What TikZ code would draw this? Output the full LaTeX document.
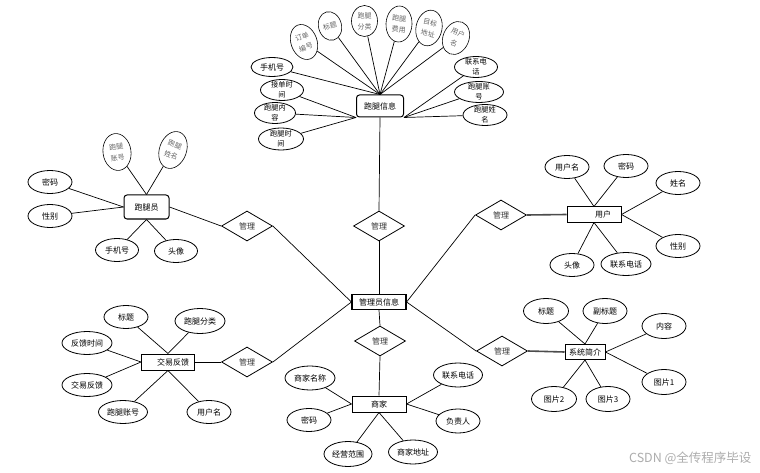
\documentclass[tikz,border=0pt]{standalone}
\usepackage{fontspec}
\setmainfont{Noto Sans CJK SC}
\usetikzlibrary{shapes.geometric}
\begin{document}
\begin{tikzpicture}[x=1pt,y=-1pt,
  every node/.style={font=\fontsize{8}{9}\selectfont},
  attr/.style={draw, ellipse, line width=0.8pt, minimum width=44pt, minimum height=23pt, inner sep=0pt},
  attrtwo/.style={attr, align=center, inner sep=-4pt, minimum height=21pt, font=\fontsize{7.2}{9.6}\selectfont},
  tilt/.style={draw, ellipse, line width=0.6pt, minimum width=26pt, minimum height=36pt, inner sep=-3pt,
    align=center, text=black!60, font=\fontsize{7}{11.2}\selectfont, rotate=#1},
  entity/.style={draw, line width=1pt, inner sep=0pt, minimum height=15pt},
  rentity/.style={entity, rounded corners=3pt},
  rel/.style={draw, diamond, line width=0.8pt, minimum width=51pt, minimum height=30pt, inner sep=0pt, text=black!80},
  link/.style={line width=0.7pt},
  heavy/.style={line width=1.6pt, draw=black!70},
]
\useasboundingbox[fill=white] (0,0) rectangle (760,473);

% ---------- entities ----------
\node[rentity, minimum width=47pt, minimum height=22pt] (pt) at (380,106) {跑腿信息};
\node[entity, minimum width=54pt, line width=1.2pt] (gl) at (379,302) {管理员信息};
\node[rentity, minimum width=45pt, minimum height=24pt] (pty) at (146.5,207) {跑腿员};
\node[entity, minimum width=54pt] (yh) at (594,214.5) {\hspace*{18pt}用户};
\node[entity, minimum width=53pt, minimum height=16pt] (jy) at (168,362) {\hspace*{10pt}交易反馈};
\node[entity, minimum width=54pt, minimum height=16pt] (sj) at (379,404) {商家};
\node[entity, minimum width=40pt] (xt) at (585,352) {系统简介};

% ---------- relationships ----------
\node[rel] (d1) at (379,226) {管理};
\node[rel] (d2) at (247,226) {管理};
\node[rel] (d3) at (501,215) {管理};
\node[rel] (d4) at (247,362) {管理};
\node[rel] (d5) at (380,341) {管理};
\node[rel] (d6) at (502,351) {管理};

% ---------- attributes of 跑腿信息 ----------
\node[tilt=20]  (p1) at (304,42) {订单\\编号};
\node[tilt=15, minimum width=23pt, minimum height=29pt] (p2) at (330,26) {标题};
\node[tilt=0, minimum height=31pt]  (p3) at (364.5,21) {跑腿\\分类};
\node[tilt=-3]  (p4) at (399,24) {跑腿\\费用};
\node[tilt=-12] (p5) at (429,28) {目标\\地址};
\node[tilt=-22, minimum height=34pt] (p6) at (456,38) {用户\\名};
\node[attr, minimum width=42pt, minimum height=19pt] (p7) at (272,67) {手机号};
\node[attrtwo, minimum width=43pt] (p8) at (282,90) {接单时\\间};
\node[attrtwo, minimum width=41pt] (p9) at (275,113) {跑腿内\\容};
\node[attrtwo, minimum width=45pt, minimum height=22pt] (p10) at (281,139) {跑腿时\\间};
\node[attrtwo, minimum width=43pt] (p11) at (476,67) {联系电\\话};
\node[attrtwo, minimum width=49pt] (p12) at (479,92) {跑腿账\\号};
\node[attrtwo, minimum width=44pt] (p13) at (485,115) {跑腿姓\\名};

\foreach \a in {p1,p2,p3,p4,p5,p6,p7}
  \draw[link] (\a) -- (pt.north);
\foreach \a in {p8,p9,p10}
  \draw[link] (\a) -- (pt.south west);
\foreach \a in {p11,p12,p13}
  \draw[link] (\a) -- (pt.south east);

% ---------- attributes of 跑腿员 ----------
\node[tilt=8, minimum width=28pt, minimum height=37pt]  (r1) at (117,152) {跑腿\\账号};
\node[tilt=-20, minimum width=27pt, minimum height=38pt] (r2) at (173,150) {跑腿\\姓名};
\node[attr] (r3) at (50,182) {密码};
\node[attr] (r4) at (50,216) {性别};
\node[attr, minimum width=43pt] (r5) at (117,250) {手机号};
\node[attr, minimum width=43pt] (r6) at (176,251) {头像};
\draw[link] (r1) -- (pty.north);
\draw[link] (r2) -- (pty.north);
\draw[link] (r3) -- (pty.west);
\draw[link] (r4) -- (pty.west);
\draw[link] (r5) -- (pty.south);
\draw[link] (r6) -- (pty.south);

% ---------- attributes of 用户 ----------
\node[attr] (u1) at (567,167) {用户名};
\node[attr] (u2) at (626,166) {密码};
\node[attr] (u3) at (678,183) {姓名};
\node[attr] (u4) at (678,246) {性别};
\node[attr] (u5) at (572,265) {头像};
\node[attr, minimum width=50pt] (u6) at (626,264) {联系电话};
\draw[link] (u1) -- (yh.north);
\draw[link] (u2) -- (yh.north);
\draw[link] (u3) -- (yh.east);
\draw[link] (u4) -- (yh.east);
\draw[link] (u5) -- (yh.south);
\draw[link] (u6) -- (yh.south);

% ---------- attributes of 交易反馈 ----------
\node[attr] (f1) at (126,317) {标题};
\node[attr, minimum width=50pt, minimum height=25pt] (f2) at (200,321) {跑腿分类};
\node[attr, minimum width=50pt] (f3) at (87,343) {反馈时间};
\node[attr, minimum width=50pt] (f4) at (87,385) {交易反馈};
\node[attr, minimum width=49pt] (f5) at (123,412) {跑腿账号};
\node[attr] (f6) at (209,412) {用户名};
\draw[link] (f1) -- (jy.north);
\draw[link] (f2) -- (jy.north);
\draw[link] (f3) -- (jy.west);
\draw[link] (f4) -- (jy.west);
\draw[link] (f5) -- (jy.south);
\draw[link] (f6) -- (jy.south);

% ---------- attributes of 商家 ----------
\node[attr, minimum width=50pt, minimum height=24pt] (s1) at (310,378) {商家名称};
\node[attr] (s2) at (309,420) {密码};
\node[attr, minimum width=48pt, minimum height=25pt] (s3) at (348,454) {经营范围};
\node[attr, minimum width=49pt, minimum height=24pt] (s4) at (413,452) {商家地址};
\node[attr, minimum height=24pt] (s5) at (458,421) {负责人};
\node[attr, minimum width=49pt, minimum height=24pt] (s6) at (458,375) {联系电话};
\draw[link] (s1) -- (sj.west);
\draw[link] (s2) -- (sj.west);
\draw[link] (s3) -- (sj.south);
\draw[link] (s4) -- (sj.south);
\draw[link] (s5) -- (sj.east);
\draw[link] (s6) -- (sj.east);

% ---------- attributes of 系统简介 ----------
\node[attr, minimum width=45pt, minimum height=25pt] (x1) at (546,311) {标题};
\node[attr, minimum height=25pt] (x2) at (605,311) {副标题};
\node[attr, minimum height=25pt] (x3) at (664,326) {内容};
\node[attr, minimum height=25pt] (x4) at (664,382) {图片1};
\node[attr, minimum width=45pt, minimum height=25pt] (x5) at (554,399) {图片2};
\node[attr, minimum height=25pt] (x6) at (608,399) {图片3};
\draw[link] (x1) -- (xt.north);
\draw[link] (x2) -- (xt.north);
\draw[link] (x3) -- (xt.east);
\draw[link] (x4) -- (xt.east);
\draw[link] (x5) -- (xt.south);
\draw[link] (x6) -- (xt.south);

% ---------- relationship links ----------
\draw[link] (pt.south) -- (d1.north);
\draw[link] (d1.south) -- (gl.north);
\draw[link] (pty.east) -- (d2.west);
\draw[link] (d2.east) -- (gl.west);
\draw[link] (gl.east) -- (d3.west);
\draw[heavy] (d3.east) -- (yh.west);
\draw[link] (jy.east) -- (d4.west);
\draw[link] (d4.east) -- (gl.west);
\draw[link] (gl.south) -- (d5.north);
\draw[link] (d5.south) -- (sj.north);
\draw[link] (gl.east) -- (d6.west);
\draw[heavy] (d6.east) -- (xt.west);

% ---------- watermark ----------
\node[anchor=east, text=black!32, font=\fontsize{12.5}{14}\selectfont] (wm) at (755,458) {CSDN @全传程序毕设};
\end{tikzpicture}
\end{document}
